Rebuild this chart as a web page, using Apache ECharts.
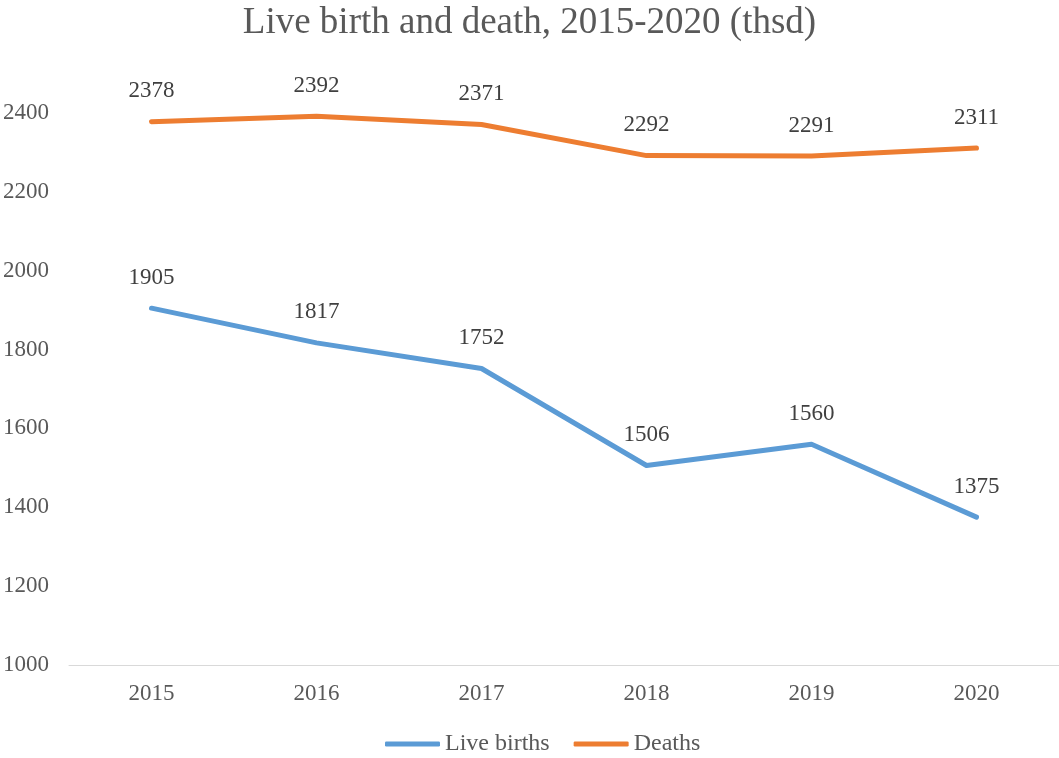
<!DOCTYPE html>
<html lang="en">
<head>
    <meta charset="UTF-8">
    <title>Live birth and death, 2015-2020</title>
    <script src="https://cdn.jsdelivr.net/npm/echarts@6.0.0/dist/echarts.min.js"></script>
    <style>
        html, body { margin: 0; padding: 0; background: #fff; }
        #chart { width: 1059px; height: 758px; }
    </style>
</head>
<body>
<div id="chart"></div>
<script>
    const years = ['2015', '2016', '2017', '2018', '2019', '2020'];
    const liveBirths = [1905, 1817, 1752, 1506, 1560, 1375];
    const deaths = [2378, 2392, 2371, 2292, 2291, 2311];

    const font = '"Liberation Serif", "Times New Roman", serif';
    const chart = echarts.init(document.getElementById('chart'));

    function lineSeries(name, data, color) {
        return {
            name: name,
            type: 'line',
            data: data,
            symbol: 'circle',
            symbolSize: 0,
            showSymbol: true,
            smooth: false,
            lineStyle: {width: 5, color: color, cap: 'round', join: 'round'},
            itemStyle: {color: color},
            label: {
                show: true,
                position: 'top',
                distance: 19,
                color: '#404040',
                fontFamily: font,
                fontSize: 23
            }
        };
    }

    chart.setOption({
        animation: false,
        backgroundColor: '#fff',
        title: {
            text: 'Live birth and death, 2015-2020 (thsd)',
            left: 'center',
            top: 0,
            textStyle: {color: '#595959', fontFamily: font, fontSize: 37, fontWeight: 'normal'}
        },
        grid: {left: 66, right: 0, top: 113, bottom: 93, containLabel: false},
        legend: {
            bottom: -3,
            left: 380,
            itemWidth: 55,
            itemHeight: 5,
            itemGap: 24,
            icon: 'roundRect',
            textStyle: {color: '#595959', fontFamily: font, fontSize: 24},
            data: ['Live births', 'Deaths']
        },
        xAxis: {
            type: 'category',
            data: years,
            boundaryGap: true,
            axisLine: {lineStyle: {color: '#d9d9d9', width: 1}},
            axisTick: {show: false},
            axisLabel: {color: '#595959', fontFamily: font, fontSize: 23, margin: 17}
        },
        yAxis: {
            type: 'value',
            min: 1000,
            max: 2400,
            interval: 200,
            splitLine: {show: false},
            axisLine: {show: false},
            axisTick: {show: false},
            axisLabel: {color: '#595959', fontFamily: font, fontSize: 23, margin: 20, formatter: v => String(v)}
        },
        series: [
            lineSeries('Live births', liveBirths, '#5b9bd5'),
            lineSeries('Deaths', deaths, '#ed7d31')
        ]
    });
</script>
</body>
</html>
